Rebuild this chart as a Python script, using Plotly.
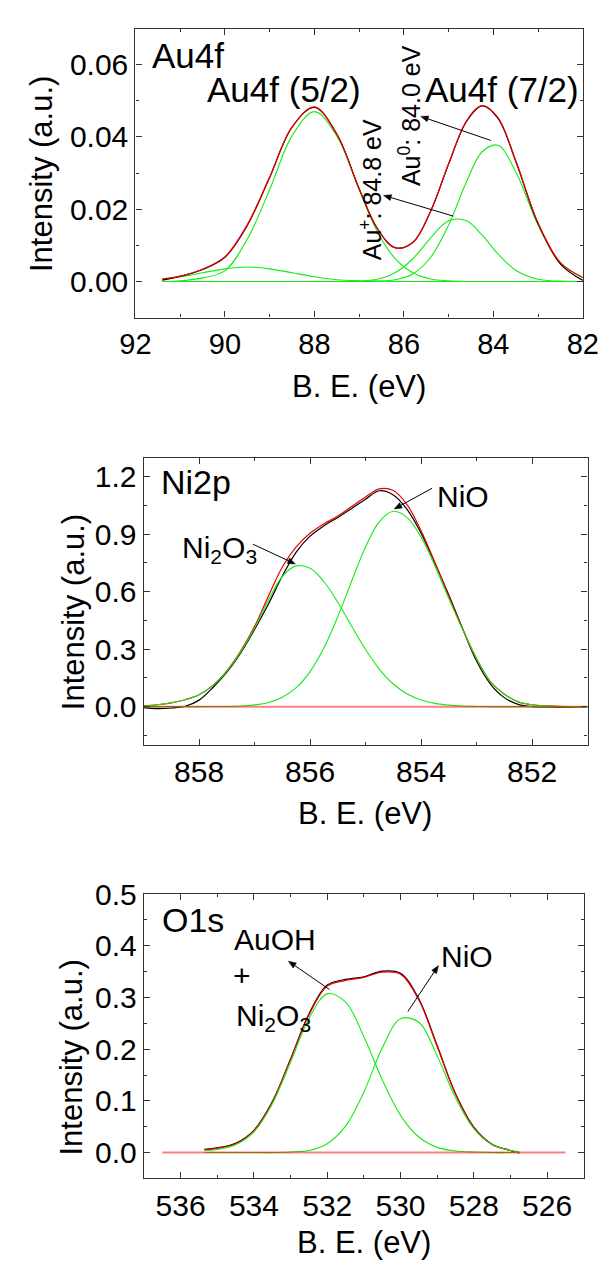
import math
import plotly.graph_objects as go

# ---------------- DATA ----------------
# Au4f panel
au_x = [91.4, 91.0, 90.5, 90.0, 89.5, 89.0, 88.5, 88.0, 87.5, 87.0, 86.6, 86.2,
        85.8, 85.4, 85.0, 84.6, 84.25, 83.9, 83.5, 83.0, 82.5, 82.0]
au_raw = [0.0004, 0.0014, 0.0033, 0.0067, 0.0155, 0.0288, 0.0427, 0.0482, 0.0408, 0.0257, 0.0148,
          0.0094, 0.0108, 0.0195, 0.0325, 0.0443, 0.0486, 0.0452, 0.0333, 0.0160, 0.0048, 0.0003]
au_fit = [0.0007, 0.0015, 0.0034, 0.0068, 0.0157, 0.0289, 0.0427, 0.0483, 0.0408, 0.0257, 0.0148,
          0.0093, 0.0108, 0.0195, 0.0326, 0.0444, 0.0487, 0.0454, 0.0335, 0.0162, 0.0052, 0.0011]
au_52_main = [0.0000, 0.0002, 0.0010, 0.0030, 0.0117, 0.0254, 0.0403, 0.0470, 0.0403, 0.0254, 0.0140,
              0.0064, 0.0024, 0.0007, 0.0002, 0, 0, 0, 0, 0, 0, 0]
au_52_broad = [0.0007, 0.0013, 0.0024, 0.0035, 0.0040, 0.0035, 0.0024, 0.0013, 0.0005, 0.0002, 0.0001,
               0, 0, 0, 0, 0, 0, 0, 0, 0, 0, 0]
au_plus = [0, 0, 0, 0, 0, 0, 0, 0, 0, 0.0001, 0.0006, 0.0024, 0.0063, 0.0121, 0.0168, 0.0168,
           0.0128, 0.0077, 0.0031, 0.0006, 0.0001, 0]
au_zero = [0, 0, 0, 0, 0, 0, 0, 0, 0, 0, 0.0001, 0.0005, 0.0021, 0.0067, 0.0156, 0.0276,
           0.0359, 0.0377, 0.0304, 0.0156, 0.0051, 0.0011]

# Ni2p panel
ni_x = [859.00, 858.75, 858.50, 858.25, 858.00, 857.75, 857.50, 857.25, 857.00, 856.75, 856.50,
        856.25, 856.00, 855.75, 855.50, 855.25, 855.00, 854.75, 854.50, 854.25, 854.00, 853.75,
        853.50, 853.25, 853.00, 852.75, 852.50, 852.25, 852.00, 851.75, 851.50, 851.25, 851.00]
ni_raw = [-0.005, -0.010, -0.007, 0.002, 0.034, 0.100, 0.180, 0.281, 0.403, 0.536, 0.682,
          0.807, 0.890, 0.944, 0.988, 1.035, 1.083, 1.127, 1.105, 1.029, 0.906, 0.749,
          0.583, 0.406, 0.238, 0.118, 0.047, 0.012, 0.000, -0.002, -0.003, -0.002, 0.000]
ni_fit = [0.004, 0.010, 0.020, 0.036, 0.062, 0.111, 0.187, 0.290, 0.419, 0.577, 0.729,
          0.834, 0.905, 0.955, 0.995, 1.045, 1.095, 1.137, 1.128, 1.053, 0.918, 0.752,
          0.575, 0.404, 0.250, 0.130, 0.065, 0.025, 0.010, 0.004, 0.001, 0.000, 0.000]
ni_ni2o3 = [0.004, 0.010, 0.020, 0.036, 0.062, 0.110, 0.185, 0.285, 0.410, 0.555, 0.680,
            0.735, 0.722, 0.652, 0.545, 0.420, 0.298, 0.195, 0.118, 0.066, 0.035, 0.017,
            0.008, 0.003, 0.001, 0, 0, 0, 0, 0, 0, 0, 0]
ni_nio = [0, 0, 0, 0, 0, 0.001, 0.001, 0.003, 0.009, 0.022, 0.049,
          0.099, 0.183, 0.307, 0.470, 0.656, 0.834, 0.966, 1.020, 0.987, 0.885, 0.734,
          0.564, 0.401, 0.250, 0.130, 0.065, 0.025, 0.010, 0.004, 0.001, 0, 0]
ni_base_x = [859.0, 851.0]
ni_base_y = [0.0, 0.0]

# O1s panel
o_x = [535.35, 535.0, 534.5, 534.0, 533.5, 533.0, 532.5, 532.0, 531.5, 531.0, 530.5,
       530.0, 529.5, 529.0, 528.5, 528.0, 527.5, 527.0, 526.76]
o_raw = [0.006, 0.009, 0.018, 0.043, 0.098, 0.181, 0.268, 0.324, 0.335, 0.340, 0.351,
         0.347, 0.297, 0.207, 0.114, 0.049, 0.016, 0.004, -0.001]
o_fit = [0.005, 0.008, 0.017, 0.042, 0.097, 0.180, 0.266, 0.322, 0.333, 0.339, 0.349,
         0.345, 0.295, 0.205, 0.113, 0.048, 0.015, 0.004, 0.000]
o_auoh = [0.004, 0.006, 0.015, 0.040, 0.094, 0.175, 0.259, 0.307, 0.291, 0.224, 0.141,
          0.072, 0.030, 0.010, 0.003, 0.001, 0, 0, 0]
o_nio = [0, 0, 0, 0, 0, 0.001, 0.004, 0.017, 0.051, 0.117, 0.202,
         0.259, 0.252, 0.187, 0.106, 0.046, 0.0155, 0.004, 0.002]
o_base_x = [536.5, 525.5]
o_base_y = [0.0, 0.0]

# ---------------- FIGURE ----------------
W, H = 614, 1263
FONT = "Arial, Liberation Sans, sans-serif"
GREEN = "#14ec14"


def fx(p):
    return p / W


def fy(p):
    return 1 - p / H


fig = go.Figure()


def line(x, y, color, width, xa, ya, shape="spline"):
    fig.add_trace(go.Scatter(x=x, y=y, mode="lines",
                             line=dict(color=color, width=width, shape=shape, smoothing=1.0),
                             xaxis=xa, yaxis=ya, showlegend=False, hoverinfo="skip"))


# Au4f
for comp in (au_52_main, au_52_broad, au_plus, au_zero):
    line(au_x, comp, GREEN, 1.1, "x", "y")
line(au_x, au_raw, "black", 1.2, "x", "y")
line(au_x, au_fit, "#ee0000", 1.2, "x", "y")

# Ni2p
line(ni_x, ni_raw, "black", 1.2, "x2", "y2")
line(ni_x, ni_fit, "#ee0000", 1.2, "x2", "y2")
for comp in (ni_ni2o3, ni_nio):
    line(ni_x, comp, GREEN, 1.1, "x2", "y2")
line(ni_base_x, ni_base_y, "rgba(255,0,0,0.5)", 2, "x2", "y2", "linear")

# O1s
line(o_x, o_raw, "black", 1.2, "x3", "y3")
line(o_x, o_fit, "#ee0000", 1.2, "x3", "y3")
for comp in (o_auoh, o_nio):
    line(o_x, comp, GREEN, 1.1, "x3", "y3")
line(o_base_x, o_base_y, "rgba(255,0,0,0.5)", 2, "x3", "y3", "linear")


def xaxis(dom, rng, anchor, size):
    return dict(domain=dom, range=rng, anchor=anchor, tick0=0, dtick=2,
                ticks="inside", ticklen=6, tickwidth=1.2, tickcolor="#333",
                minor=dict(ticks="inside", ticklen=3, dtick=1, tick0=0, tickcolor="#333", showgrid=False),
                showline=True, mirror="allticks", linecolor="#333", linewidth=1.3,
                showgrid=False, zeroline=False, ticklabeloverflow="allow",
                tickfont=dict(size=size, family=FONT, color="black"))


def yaxis(dom, rng, anchor, dt, mdt, fmt, size):
    return dict(domain=dom, range=rng, anchor=anchor, tick0=0, dtick=dt, tickformat=fmt,
                ticks="inside", ticklen=6, tickwidth=1.2, tickcolor="#333",
                minor=dict(ticks="inside", ticklen=3, dtick=mdt, tick0=0, tickcolor="#333", showgrid=False),
                showline=True, mirror="allticks", linecolor="#333", linewidth=1.3,
                showgrid=False, zeroline=False, ticklabeloverflow="allow",
                tickfont=dict(size=size, family=FONT, color="black"))


fig.update_layout(
    width=W, height=H, margin=dict(l=0, r=0, t=0, b=0),
    paper_bgcolor="white", plot_bgcolor="white", showlegend=False,
    xaxis=xaxis([fx(126), fx(598)], [92, 82], "y", 29),
    yaxis=yaxis([fy(305.5), fy(12.7)], [-0.01, 0.07], "x", 0.02, 0.01, ".2f", 30),
    xaxis2=xaxis([fx(134.6), fx(603)], [859, 851], "y2", 30),
    yaxis2=yaxis([fy(738.3), fy(447.3)], [-0.2, 1.3], "x2", 0.3, 0.15, ".1f", 30),
    xaxis3=xaxis([fx(135), fx(599)], [537, 525], "y3", 30),
    yaxis3=yaxis([fy(1177.3), fy(889.3)], [-0.05, 0.5001], "x3", 0.1, 0.05, ".1f", 30),
)


def ann(text, x, y, size, xanchor="center", angle=0):
    fig.add_annotation(text=text, x=fx(x), y=fy(y), xref="paper", yref="paper",
                       xanchor=xanchor, yanchor="middle", showarrow=False, textangle=angle,
                       font=dict(size=size, color="black", family=FONT))


shapes = []


def arrow(x0, y0, x1, y1, head=8.0, half=3.0):
    # tail (x0, y0) -> head (x1, y1), page pixels
    dx, dy = x1 - x0, y1 - y0
    n = math.hypot(dx, dy)
    ux, uy = dx / n, dy / n
    bx, by = x1 - ux * head, y1 - uy * head
    px_, py_ = -uy, ux
    shapes.append(dict(type="line", xref="paper", yref="paper",
                       x0=fx(x0), y0=fy(y0), x1=fx(bx), y1=fy(by),
                       line=dict(color="black", width=1)))
    pts = [(x1, y1), (bx + px_ * half, by + py_ * half), (bx - px_ * half, by - py_ * half)]
    path = "M " + " L ".join(f"{fx(a):.5f},{fy(b):.5f}" for a, b in pts) + " Z"
    shapes.append(dict(type="path", xref="paper", yref="paper", path=path,
                       fillcolor="black", line=dict(color="black", width=0.5)))


# Au4f annotations
ann("Au4f", 141.7, 40, 35, "left")
ann("Au4f (5/2)", 283, 74, 35)
ann("Au4f (7/2)", 513, 74, 35)
ann("Au<sup>0</sup>: 84.0 eV", 415, 101, 25, angle=-90)
ann("Au<sup>+</sup>: 84.8 eV", 374, 176, 25, angle=-90)
arrow(500.8, 126, 427, 101.7)
arrow(461.4, 202.7, 387.8, 181.7)

# Ni2p annotations
ann("Ni2p", 150.7, 472, 34, "left")
ann("Ni<sub>2</sub>O<sub>3</sub>", 173, 540, 30, "left")
ann("NiO", 472, 487, 30)
arrow(250, 535, 294.7, 555)
arrow(439, 478.3, 399, 499.3)

# O1s annotations
ann("O1s", 151.6, 916, 34, "left")
ann("AuOH", 228.3, 935, 30, "left")
ann("+", 238, 972, 30)
ann("Ni<sub>2</sub>O<sub>3</sub>", 229.5, 1014, 30, "left")
ann("NiO", 476, 953, 30)
arrow(330.7, 986, 287.4, 957.3)
arrow(413.4, 1008.3, 445.7, 961.7)

# axis titles
ann("B. E. (eV)", 362, 375, 31)
ann("B. E. (eV)", 368, 808, 31)
ann("B. E. (eV)", 367, 1242, 31)
ann("Intensity (a.u.)", 27.5, 160, 31, angle=-90)
ann("Intensity (a.u.)", 60, 604, 31, angle=-90)
ann("Intensity (a.u.)", 59, 1055, 31, angle=-90)

fig.update_layout(shapes=shapes)
fig.write_html("out.html")
